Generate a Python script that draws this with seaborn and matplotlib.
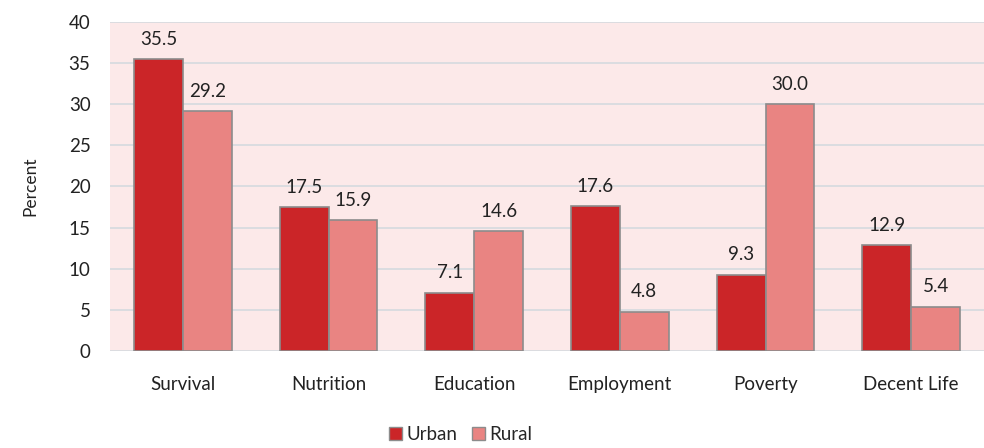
import matplotlib
matplotlib.use("Agg")
import matplotlib.pyplot as plt
import seaborn as sns
import pandas as pd
from matplotlib.patches import Patch

categories = ["Survival", "Nutrition", "Education", "Employment", "Poverty", "Decent Life"]
urban = [35.5, 17.5, 7.1, 17.6, 9.3, 12.9]
rural = [29.2, 15.9, 14.6, 4.8, 30.0, 5.4]
series = ["Urban", "Rural"]
colors = {"Urban": "#CB2528", "Rural": "#E98482"}

df = pd.DataFrame({
    "Category": categories * 2,
    "Series": ["Urban"] * len(categories) + ["Rural"] * len(categories),
    "Percent": urban + rural,
})

sns.set_theme(style="white")
plt.rcParams["font.family"] = ["Lato", "DejaVu Sans"]

fig = plt.figure(figsize=(9.84, 4.48), dpi=100)
ax = fig.add_axes([0.1118, 0.2165, 0.8882, 0.7345])
ax.set_facecolor("#FCE9E9")

sns.barplot(data=df, x="Category", y="Percent", hue="Series", order=categories,
            hue_order=series, palette=colors, saturation=1, width=0.67,
            edgecolor="#8C8C8C", linewidth=1.2, ax=ax, legend=False, zorder=3)

for cont in ax.containers:
    ax.bar_label(cont, fmt="%.1f", padding=8, fontsize=13.5, color="#222222")

ax.set_ylim(0, 40)
ax.set_yticks(range(0, 41, 5))
ax.yaxis.grid(True, color="#D5DADF", linewidth=1.2, zorder=0)
ax.set_axisbelow(True)
for s in ax.spines.values():
    s.set_visible(False)
ax.set_xlabel("")
ax.set_ylabel("Percent", fontsize=12.5, labelpad=22, color="#222222")
ax.tick_params(axis="both", length=0, labelsize=13.5, colors="#222222")
ax.tick_params(axis="x", pad=18)
ax.tick_params(axis="y", pad=14)
ax.set_xlim(-0.5, len(categories) - 0.5)

handles = [Patch(facecolor=colors[s], edgecolor="#8C8C8C", label=s) for s in series]
fig.legend(handles=handles, loc="center", bbox_to_anchor=(0.468, 0.03), ncol=2,
           frameon=False, fontsize=13.5, handlelength=0.7, handleheight=0.7,
           handletextpad=0.2, columnspacing=0.8)

fig.savefig("out.png", dpi=100)
